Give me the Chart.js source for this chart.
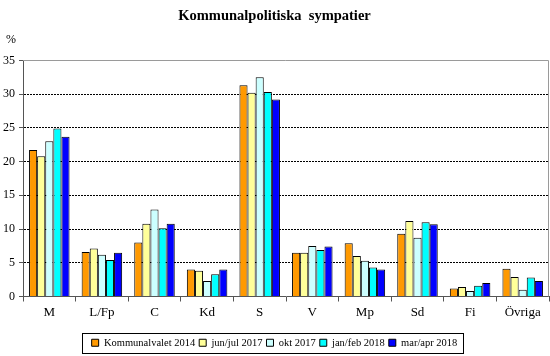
<!DOCTYPE html>
<html>
<head>
<meta charset="utf-8">
<script src="https://cdn.jsdelivr.net/npm/chart.js@4/dist/chart.umd.min.js"></script>
<style>
html,body{margin:0;padding:0;background:#fff;}
#wrap{width:550px;height:356px;position:relative;}
</style>
</head>
<body>
<div id="wrap"><canvas id="c" width="550" height="356"></canvas></div>
<script>
const categories = ["M", "L/Fp", "C", "Kd", "S", "V", "Mp", "Sd", "Fi", "Övriga"];
const seriesNames = ["Kommunalvalet 2014", "jun/jul 2017", "okt 2017", "jan/feb 2018", "mar/apr 2018"];
const kommunalvalet2014 = [21.7, 6.6, 8.0, 4.0, 31.3, 6.5, 7.9, 9.3, 1.2, 4.1];
const junJul2017 = [20.8, 7.1, 10.8, 3.8, 30.2, 6.5, 6.0, 11.2, 1.4, 2.9];
const okt2017 = [23.0, 6.2, 12.9, 2.3, 32.5, 7.5, 5.3, 8.7, 0.8, 1.0];
const janFeb2018 = [24.9, 5.4, 10.1, 3.3, 30.3, 6.9, 4.3, 11.0, 1.6, 2.8];
const marApr2018 = [23.7, 6.5, 10.8, 4.0, 29.2, 7.4, 4.0, 10.7, 2.0, 2.3];
const yTicks = [0, 5, 10, 15, 20, 25, 30, 35];
const titleText = "Kommunalpolitiska  sympatier";
const unitLabel = "%";

const colors = ["#FF9900", "#FFFF99", "#CCFFFF", "#00FFFF", "#0000FF"];
const allSeries = [kommunalvalet2014, junJul2017, okt2017, janFeb2018, marApr2018];
const FONT = "'Liberation Serif', 'Times New Roman', serif";

const framePlugin = {
  id: 'frame',
  afterDraw(chart) {
    const ctx = chart.ctx;
    const a = chart.chartArea;
    ctx.save();
    ctx.strokeStyle = '#9a9a9a';
    ctx.lineWidth = 1;
    ctx.beginPath();
    ctx.moveTo(a.left, Math.round(a.top) + 0.5);
    ctx.lineTo(Math.round(a.right) - 0.5, Math.round(a.top) + 0.5);
    ctx.lineTo(Math.round(a.right) - 0.5, a.bottom);
    ctx.stroke();
    ctx.fillStyle = '#000';
    ctx.font = "12px " + FONT;
    ctx.textAlign = 'center';
    ctx.textBaseline = 'middle';
    ctx.fillText(unitLabel, 11, 40);
    const lg = chart.legend;
    if (lg && lg.legendHitBoxes && lg.legendHitBoxes.length) {
      const boxes = lg.legendHitBoxes;
      let l = Infinity, r = -Infinity, t = Infinity, b = -Infinity;
      boxes.forEach(h => { l = Math.min(l, h.left); r = Math.max(r, h.left + h.width); t = Math.min(t, h.top); b = Math.max(b, h.top + h.height); });
      const cy = (t + b) / 2;
      ctx.strokeStyle = '#000';
      ctx.lineWidth = 1;
      ctx.strokeRect(Math.round(l - 10) + 0.5, Math.round(cy - 10) + 0.5, Math.round(r - l + 15), 20);
    }
    ctx.restore();
  }
};

new Chart(document.getElementById('c'), {
  type: 'bar',
  data: {
    labels: categories,
    datasets: allSeries.map((d, i) => ({
      label: seriesNames[i],
      data: d,
      backgroundColor: colors[i],
      borderColor: '#000',
      borderWidth: 1,
      categoryPercentage: 0.77,
      barPercentage: 1.0
    }))
  },
  options: {
    responsive: false,
    animation: false,
    devicePixelRatio: 1,
    layout: { padding: { left: 0, right: 1, top: 0, bottom: -2 } },
    plugins: {
      title: {
        display: true,
        text: titleText,
        color: '#000',
        font: { family: FONT, size: 14.5, weight: 'bold' },
        padding: { top: 8, bottom: 35 }
      },
      legend: {
        display: true,
        position: 'bottom',
        labels: {
          color: '#000',
          font: { family: FONT, size: 10.5 },
          boxWidth: 7,
          boxHeight: 7,
          padding: 4,
          generateLabels(chart) {
            return chart.data.datasets.map((ds, i) => ({
              text: ds.label,
              fillStyle: ds.backgroundColor,
              strokeStyle: '#000',
              lineWidth: 1,
              hidden: false,
              datasetIndex: i,
              fontColor: '#000'
            }));
          }
        }
      },
      tooltip: { enabled: false }
    },
    scales: {
      x: {
        afterFit(scale) { scale.height = 37; },
        grid: { display: true, drawOnChartArea: false, drawTicks: true, tickLength: 5, tickColor: '#555', offset: true },
        border: { display: true, color: '#555' },
        ticks: { color: '#000', font: { family: FONT, size: 13 }, padding: 3 }
      },
      y: {
        min: 0,
        max: 35,
        afterBuildTicks(scale) { scale.ticks = yTicks.map(v => ({ value: v })); },
        afterFit(scale) { scale.width = 23; },
        grid: {
          color(ctx) { const v = ctx.tick && ctx.tick.value; return (v === 0 || v === 35) ? 'rgba(0,0,0,0)' : '#000'; },
          tickColor: '#555',
          tickLength: 4,
          tickBorderDash: []
        },
        border: { display: true, color: '#555', dash: [2, 1] },
        ticks: { color: '#000', font: { family: FONT, size: 12 }, padding: 4 }
      }
    }
  },
  plugins: [framePlugin]
});
</script>
</body>
</html>
